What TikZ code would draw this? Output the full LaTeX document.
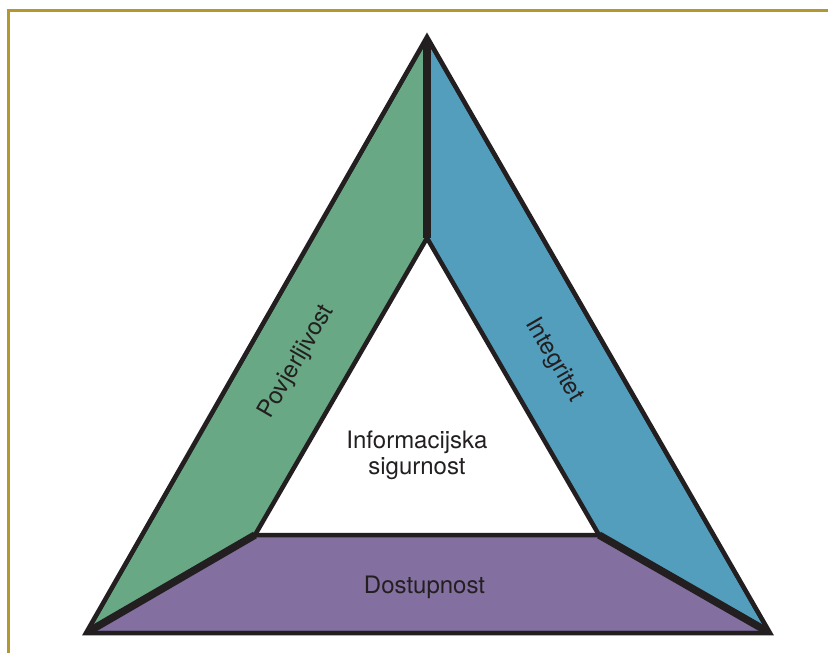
\documentclass[tikz,border=0pt]{standalone}
\usepackage{fontspec}
\setmainfont{TeX Gyre Heros}
\definecolor{inkdark}{RGB}{35,31,32}
\definecolor{framegold}{RGB}{178,152,48}
\definecolor{confgreen}{RGB}{104,168,132}
\definecolor{integblue}{RGB}{82,158,188}
\definecolor{availpurple}{RGB}{131,112,160}
\begin{document}
\begin{tikzpicture}[x=1pt,y=-1pt,
  band/.style={draw=inkdark,line width=4.5pt,line join=miter},
  seam/.style={draw=inkdark,line width=7.5pt,line cap=butt},
  lbl/.style={text=inkdark,inner sep=0pt,font=\fontsize{24}{26}\selectfont}]
  \useasboundingbox (0,0) rectangle (828,653);
  % page frame
  \draw[framegold,line width=3pt,line join=miter] (8.5,653) -- (8.5,10.7) -- (828,10.7);
  % corner points of the triangle
  \coordinate (apex) at (427,37);
  \coordinate (bl) at (86,633);
  \coordinate (br) at (770,633);
  \coordinate (iapex) at (427,238);
  \coordinate (ibl) at (255,535);
  \coordinate (ibr) at (599,535);
  % bands and seams, kept inside the outer triangle
  \begin{scope}
    \clip (bl) -- (apex) -- (br) -- cycle;
    \filldraw[band,fill=confgreen] (bl) -- (apex) -- (iapex) -- (ibl) -- cycle;
    \filldraw[band,fill=integblue] (apex) -- (br) -- (ibr) -- (iapex) -- cycle;
    \filldraw[band,fill=availpurple] (bl) -- (ibl) -- (ibr) -- (br) -- cycle;
    \draw[seam] (apex) -- (iapex);
    \draw[seam] (ibl) -- (bl);
    \draw[seam] (ibr) -- (br);
  \end{scope}
  % outer outline with sharp tips
  \draw[band] (bl) -- (apex) -- (br) -- cycle;
  % labels
  \node[lbl,rotate=60] (conf) at (297,362) {Povjerljivost};
  \node[lbl,rotate=-60] (integ) at (554,360) {Integritet};
  \node[lbl,anchor=base] (avail) at (424.5,593) {Dostupnost};
  \node[lbl,align=center] (infosec) at (417,455.5) {Informacijska\\sigurnost};
\end{tikzpicture}
\end{document}
